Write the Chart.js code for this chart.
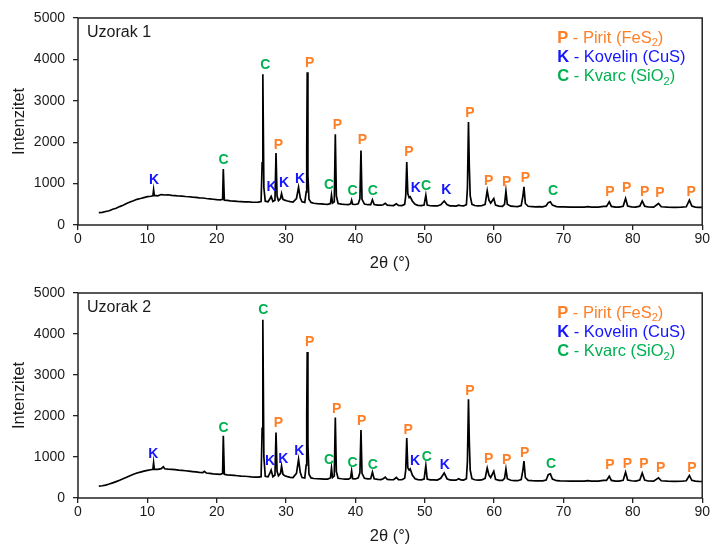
<!DOCTYPE html>
<html>
<head>
<meta charset="utf-8">
<script src="https://cdn.jsdelivr.net/npm/chart.js@4.4.0/dist/chart.umd.min.js"></script>
<style>
  body { margin: 0; background: #fff; }
  .panel { width: 711px; height: 273px; position: relative; }
</style>
</head>
<body>
<div class="panel"><canvas id="chart1"></canvas></div>
<div class="panel"><canvas id="chart2"></canvas></div>
<script>
// XRD patterns: [2theta, intensity]
const sample1 = [[3,300],[3.5,305],[4,325],[4.5,345],[5,380],[5.5,405],[6,445],[6.5,475],[7,520],[7.5,555],[8,585],[8.5,620],[9,640],[9.5,662],[10,685],[10.5,695],[10.8,705],[10.9,850],[11,715],[11.5,705],[12,735],[12.5,725],[13,730],[13.5,715],[14,710],[14.5,700],[15,698],[15.5,688],[16,682],[16.5,672],[17,668],[17.5,655],[18,652],[18.5,640],[19,632],[19.5,622],[20,612],[20.5,605],[20.85,620],[20.95,1350],[21.1,600],[21.5,595],[22,582],[22.5,578],[23,570],[23.5,566],[24,560],[24.5,562],[25,553],[25.5,550],[26,552],[26.4,565],[26.55,1500],[26.65,3640],[26.8,900],[27,575],[27.4,560],[27.7,640],[27.85,690],[28.1,570],[28.4,600],[28.55,1740],[28.7,700],[28.9,590],[29.2,640],[29.35,760],[29.55,620],[29.8,600],[30.2,580],[30.6,565],[31,555],[31.5,640],[31.8,910],[32.05,650],[32.3,560],[32.7,545],[32.9,800],[32.98,1800],[33.05,3690],[33.15,1200],[33.3,620],[33.6,545],[34,525],[34.5,515],[35,510],[35.5,502],[36,500],[36.4,520],[36.55,720],[36.7,530],[36.95,560],[37.1,2190],[37.25,700],[37.5,520],[38,505],[38.5,495],[39,492],[39.3,510],[39.45,600],[39.6,500],[40,495],[40.4,510],[40.65,640],[40.8,1800],[40.95,620],[41.3,505],[41.8,490],[42.2,490],[42.45,610],[42.7,495],[43.2,482],[43.7,478],[44,490],[44.3,525],[44.6,478],[45,472],[45.5,470],[45.9,510],[46.2,475],[46.7,470],[47.1,500],[47.25,700],[47.4,1520],[47.55,760],[47.75,660],[47.9,680],[48.2,580],[48.6,500],[49,475],[49.5,468],[49.9,480],[50.15,720],[50.35,480],[50.8,465],[51.3,462],[51.8,460],[52.3,490],[52.8,580],[53.2,495],[53.6,462],[54,460],[54.5,458],[54.9,480],[55.2,465],[55.6,462],[56,490],[56.15,900],[56.3,2490],[56.42,1410],[56.55,700],[56.8,500],[57.2,470],[57.7,462],[58.2,465],[58.7,500],[59,830],[59.25,600],[59.5,530],[59.95,640],[60.2,480],[60.7,455],[61.2,452],[61.5,500],[61.7,820],[61.9,500],[62.4,455],[62.9,448],[63.4,445],[63.9,470],[64.15,700],[64.3,920],[64.5,520],[64.9,452],[65.5,445],[66,440],[66.5,442],[67,440],[67.5,465],[67.8,540],[68.1,560],[68.4,480],[69,445],[69.5,438],[70,436],[71,432],[72,430],[73,432],[73.5,445],[74,432],[75,430],[75.8,450],[76.2,450],[76.6,560],[76.9,450],[77.5,432],[78,432],[78.6,450],[78.95,640],[79.25,460],[79.8,440],[80.4,432],[81,455],[81.35,580],[81.7,455],[82.2,435],[83,432],[83.7,520],[84.1,440],[85,432],[86,428],[87,430],[87.7,440],[88.15,600],[88.5,455],[89,432],[89.5,428],[90,425]];

const sample2 = [[3,290],[3.5,298],[4,315],[4.5,340],[5,370],[5.5,400],[6,432],[6.5,470],[7,505],[7.5,545],[8,580],[8.5,610],[9,632],[9.5,655],[10,672],[10.5,690],[10.8,700],[10.9,860],[11,705],[11.5,700],[12,715],[12.3,760],[12.5,712],[13,705],[13.5,700],[14,692],[14.5,682],[15,675],[15.5,665],[16,655],[16.5,645],[17,636],[17.5,625],[18,620],[18.2,650],[18.5,610],[19,600],[19.5,590],[20,582],[20.5,575],[20.85,600],[20.95,1520],[21.1,580],[21.5,565],[22,558],[22.5,550],[23,542],[23.5,535],[24,530],[24.5,525],[25,515],[25.5,510],[26,508],[26.4,520],[26.55,1700],[26.65,4350],[26.8,1000],[27,530],[27.4,515],[27.7,620],[27.85,680],[28.1,520],[28.4,560],[28.55,1600],[28.7,650],[28.9,540],[29.2,600],[29.35,780],[29.55,580],[29.8,540],[30.2,520],[30.6,505],[31,498],[31.5,600],[31.8,940],[32.05,620],[32.3,500],[32.7,490],[32.9,800],[32.98,2000],[33.05,3560],[33.15,1300],[33.3,580],[33.6,490],[34,475],[34.5,470],[35,468],[35.5,462],[36,460],[36.4,490],[36.55,730],[36.7,500],[36.95,540],[37.1,1960],[37.25,650],[37.5,480],[38,470],[38.5,462],[39,460],[39.3,490],[39.45,660],[39.6,470],[40,465],[40.4,490],[40.65,620],[40.8,1660],[40.95,600],[41.3,480],[41.8,465],[42.2,470],[42.45,630],[42.7,470],[43.2,455],[43.7,450],[44,470],[44.3,510],[44.6,452],[45,448],[45.5,445],[45.9,500],[46.2,450],[46.7,445],[47.1,480],[47.25,680],[47.4,1460],[47.55,740],[47.75,680],[47.9,710],[48.2,560],[48.6,470],[49,450],[49.5,442],[49.9,460],[50.15,790],[50.35,460],[50.8,442],[51.3,440],[51.8,438],[52.3,480],[52.8,610],[53.2,470],[53.6,440],[54,438],[54.5,435],[54.9,470],[55.2,440],[55.6,438],[56,470],[56.15,900],[56.3,2410],[56.42,1360],[56.55,680],[56.8,470],[57.2,445],[57.7,438],[58.2,440],[58.7,480],[59,730],[59.25,560],[59.5,500],[59.95,650],[60.2,455],[60.7,432],[61.2,430],[61.5,480],[61.7,710],[61.9,470],[62.4,432],[62.9,425],[63.4,422],[63.9,450],[64.15,680],[64.3,900],[64.5,500],[64.9,430],[65.5,422],[66,418],[66.5,420],[67,418],[67.5,440],[67.8,570],[68.1,590],[68.4,460],[69,422],[69.5,416],[70,415],[71,412],[72,410],[73,412],[73.5,425],[74,412],[75,410],[75.8,430],[76.2,430],[76.6,530],[76.9,430],[77.5,412],[78,412],[78.6,430],[78.95,630],[79.25,440],[79.8,420],[80.4,412],[81,440],[81.35,610],[81.7,440],[82.2,415],[83,410],[83.7,490],[84.1,420],[85,410],[86,406],[87,408],[87.7,420],[88.15,550],[88.5,432],[89,410],[89.5,405],[90,402]];

// peak letters: [phase, 2theta, intensity where the letter sits]
const peaks1 = [['K',10.95,1087],['C',21.0,1570],['C',27.0,3864],['K',27.9,918],['P',28.9,1932],['K',29.7,1014],['K',32.0,1104],['P',33.4,3920],['C',36.2,966],['P',37.4,2415],['C',39.6,828],['P',41.0,2053],['C',42.5,828],['P',47.7,1770],['K',48.7,894],['C',50.2,942],['K',53.1,845],['P',56.5,2705],['P',59.2,1063],['P',61.8,1046],['P',64.5,1135],['C',68.5,828],['P',76.7,804],['P',79.1,894],['P',81.7,804],['P',83.9,780],['P',88.4,790]];
const peaks2 = [['K',10.85,1075],['C',21.0,1706],['C',26.7,4570],['K',27.7,888],['P',28.9,1827],['K',29.6,954],['K',31.9,1131],['P',33.4,3801],['C',36.2,913],['P',37.3,2167],['C',39.6,857],['P',40.9,1884],['C',42.5,791],['P',47.6,1658],['K',48.6,888],['C',50.3,995],['K',52.9,791],['P',56.5,2612],['P',59.2,937],['P',61.8,913],['P',64.4,1099],['C',68.2,832],['P',76.7,791],['P',79.2,816],['P',81.6,816],['P',84.0,735],['P',88.5,735]];

const phaseColors = { P: '#FF7F27', K: '#1515FF', C: '#00B050' };
const legendRows = [
  ['P', ' - Pirit (FeS', '2', ')'],
  ['K', ' - Kovelin (CuS)', '', ''],
  ['C', ' - Kvarc (SiO', '2', ')']
];

const FONT = '"Liberation Sans", Arial, sans-serif';
Chart.defaults.font.family = FONT;
Chart.defaults.color = '#1a1a1a';

// frame, peak letters, sample name and phase key
const annotate = {
  id: 'annotate',
  afterDatasetsDraw(chart, args, opts) {
    const { ctx, chartArea: a, scales: { x, y } } = chart;
    ctx.save();
    ctx.strokeStyle = '#222';
    ctx.lineWidth = 1.5;
    ctx.strokeRect(a.left, a.top, a.right - a.left, a.bottom - a.top);

    ctx.font = 'bold 14px ' + FONT;
    ctx.textAlign = 'center';
    ctx.textBaseline = 'middle';
    opts.peaks.forEach(([ph, t, v]) => {
      ctx.fillStyle = phaseColors[ph];
      ctx.fillText(ph, x.getPixelForValue(t), y.getPixelForValue(v));
    });

    ctx.textAlign = 'left';
    ctx.font = '16px ' + FONT;
    ctx.fillStyle = '#1a1a1a';
    ctx.fillText(opts.name, a.left + 9, a.top + 15);

    legendRows.forEach(([ph, text, sub, tail], i) => {
      let px = a.right - 145;
      const py = a.top + 20 + i * 19.3;
      ctx.fillStyle = phaseColors[ph];
      ctx.font = 'bold 16.5px ' + FONT;
      ctx.fillText(ph, px, py);
      px += ctx.measureText(ph).width;
      ctx.font = '16.5px ' + FONT;
      ctx.fillText(text, px, py);
      px += ctx.measureText(text).width;
      if (sub) {
        ctx.font = '11px ' + FONT;
        ctx.fillText(sub, px, py + 5);
        px += ctx.measureText(sub).width;
        ctx.font = '16.5px ' + FONT;
        ctx.fillText(tail, px, py);
      }
    });
    ctx.restore();
  }
};

function createXrdChart(id, data, peaks, name, topPad) {
  return new Chart(document.getElementById(id), {
    type: 'line',
    data: {
      datasets: [{
        data: data.map(([x, y]) => ({ x, y })),
        borderColor: '#000',
        borderWidth: 1.7,
        pointRadius: 0,
        tension: 0
      }]
    },
    options: {
      responsive: true,
      maintainAspectRatio: false,
      animation: false,
      layout: { padding: { top: topPad, right: 8, left: 0, bottom: 0 } },
      plugins: {
        legend: { display: false },
        tooltip: { enabled: false },
        annotate: { peaks, name }
      },
      scales: {
        x: {
          type: 'linear',
          min: 0,
          max: 90,
          ticks: { stepSize: 10, font: { size: 14 }, padding: 1, maxRotation: 0, callback: v => String(v) },
          grid: { drawOnChartArea: false, tickLength: 5, color: '#222', lineWidth: 1.3 },
          border: { display: false },
          title: { display: true, text: '2θ (°)', font: { size: 16.5 }, padding: { top: 0, bottom: 0 } },
          afterFit: scale => { scale.height = 48; }
        },
        y: {
          min: 0,
          max: 5000,
          ticks: { stepSize: 1000, font: { size: 14 }, padding: 8, callback: v => String(v) },
          grid: { drawOnChartArea: false, tickLength: 5, color: '#222', lineWidth: 1.3 },
          border: { display: false },
          title: { display: true, text: 'Intenzitet', font: { size: 16.5 }, padding: { top: 10, bottom: 0 } },
          afterFit: scale => { scale.width = 78; }
        }
      }
    },
    plugins: [annotate]
  });
}

const chart1 = createXrdChart('chart1', sample1, peaks1, 'Uzorak 1', 18);
const chart2 = createXrdChart('chart2', sample2, peaks2, 'Uzorak 2', 20);
</script>
</body>
</html>
